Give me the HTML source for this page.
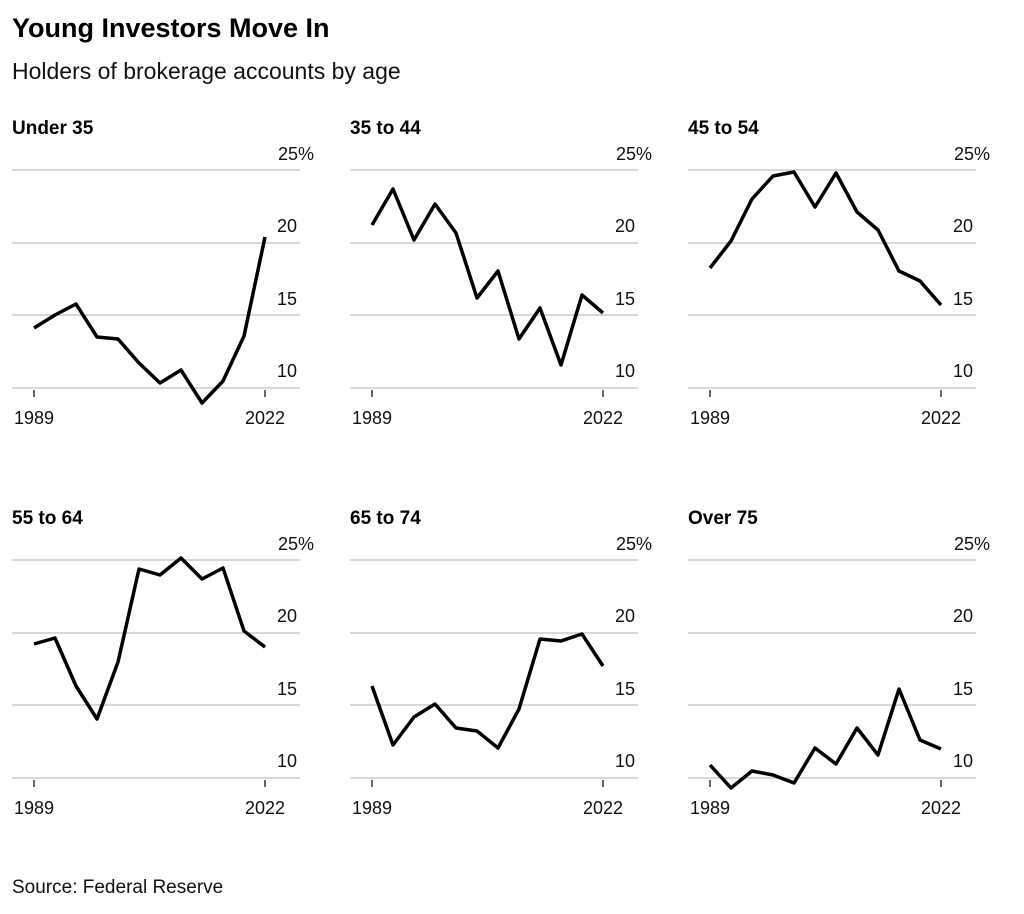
<!DOCTYPE html>
<html><head><meta charset="utf-8"><style>
body{margin:0;background:#fff;}
svg{display:block;font-family:"Liberation Sans",sans-serif;}
</style></head><body>
<svg width="1024" height="914" viewBox="0 0 1024 914" xmlns="http://www.w3.org/2000/svg">
<defs>
<g id="frame">
<g stroke="#ccc" stroke-width="1.5"><line x1="12" x2="300" y1="170" y2="170"/><line x1="12" x2="300" y1="243" y2="243"/><line x1="12" x2="300" y1="315" y2="315"/><line x1="12" x2="300" y1="388" y2="388"/></g>
<g font-size="18" fill="#111"><text x="278" y="160">25%</text><text x="277" y="232">20</text><text x="277" y="305">15</text><text x="277" y="377">10</text></g>
<g stroke="#333" stroke-width="1.5"><line x1="34" x2="34" y1="390" y2="397"/><line x1="265" x2="265" y1="390" y2="397"/></g>
<g text-anchor="middle" font-size="18" fill="#111"><text x="34" y="424">1989</text><text x="265" y="424">2022</text></g>
</g>
</defs>
<text x="12" y="37" font-size="27" font-weight="bold" fill="#000">Young Investors Move In</text>
<text x="12" y="79" font-size="23" fill="#111">Holders of brokerage accounts by age</text>
<text x="12" y="893" font-size="19" fill="#111">Source: Federal Reserve</text>

<g transform="translate(0,0)">
<text x="12" y="134" font-size="19" font-weight="bold">Under 35</text>
<use href="#frame"/>
<polyline fill="none" stroke="#000" stroke-width="3.5" stroke-linejoin="round" points="34,328 55,315 76,304 97,337 118,339 139,363 160,383 181,370 202,403 223,381 244,336 265,237"/>
</g>
<g transform="translate(338,0)">
<text x="12" y="134" font-size="19" font-weight="bold">35 to 44</text>
<use href="#frame"/>
<polyline fill="none" stroke="#000" stroke-width="3.5" stroke-linejoin="round" points="34,225 55,189 76,240 97,204 118,233 139,298 160,271 181,339 202,308 223,365 244,295 265,313"/>
</g>
<g transform="translate(676,0)">
<text x="12" y="134" font-size="19" font-weight="bold">45 to 54</text>
<use href="#frame"/>
<polyline fill="none" stroke="#000" stroke-width="3.5" stroke-linejoin="round" points="34,268 55,241 76,199 97,176 118,172 139,207 160,173 181,212 202,230 223,271 244,281 265,305"/>
</g>
<g transform="translate(0,390)">
<text x="12" y="134" font-size="19" font-weight="bold">55 to 64</text>
<use href="#frame"/>
<polyline fill="none" stroke="#000" stroke-width="3.5" stroke-linejoin="round" points="34,254 55,248 76,296 97,329 118,272 139,179 160,185 181,168 202,189 223,178 244,241 265,257"/>
</g>
<g transform="translate(338,390)">
<text x="12" y="134" font-size="19" font-weight="bold">65 to 74</text>
<use href="#frame"/>
<polyline fill="none" stroke="#000" stroke-width="3.5" stroke-linejoin="round" points="34,296 55,355 76,327 97,314 118,338 139,341 160,358 181,319 202,249 223,251 244,244 265,276"/>
</g>
<g transform="translate(676,390)">
<text x="12" y="134" font-size="19" font-weight="bold">Over 75</text>
<use href="#frame"/>
<polyline fill="none" stroke="#000" stroke-width="3.5" stroke-linejoin="round" points="34,375 55,398 76,381 97,385 118,393 139,358 160,374 181,338 202,365 223,299 244,350 265,359"/>
</g>
</svg>
</body></html>
